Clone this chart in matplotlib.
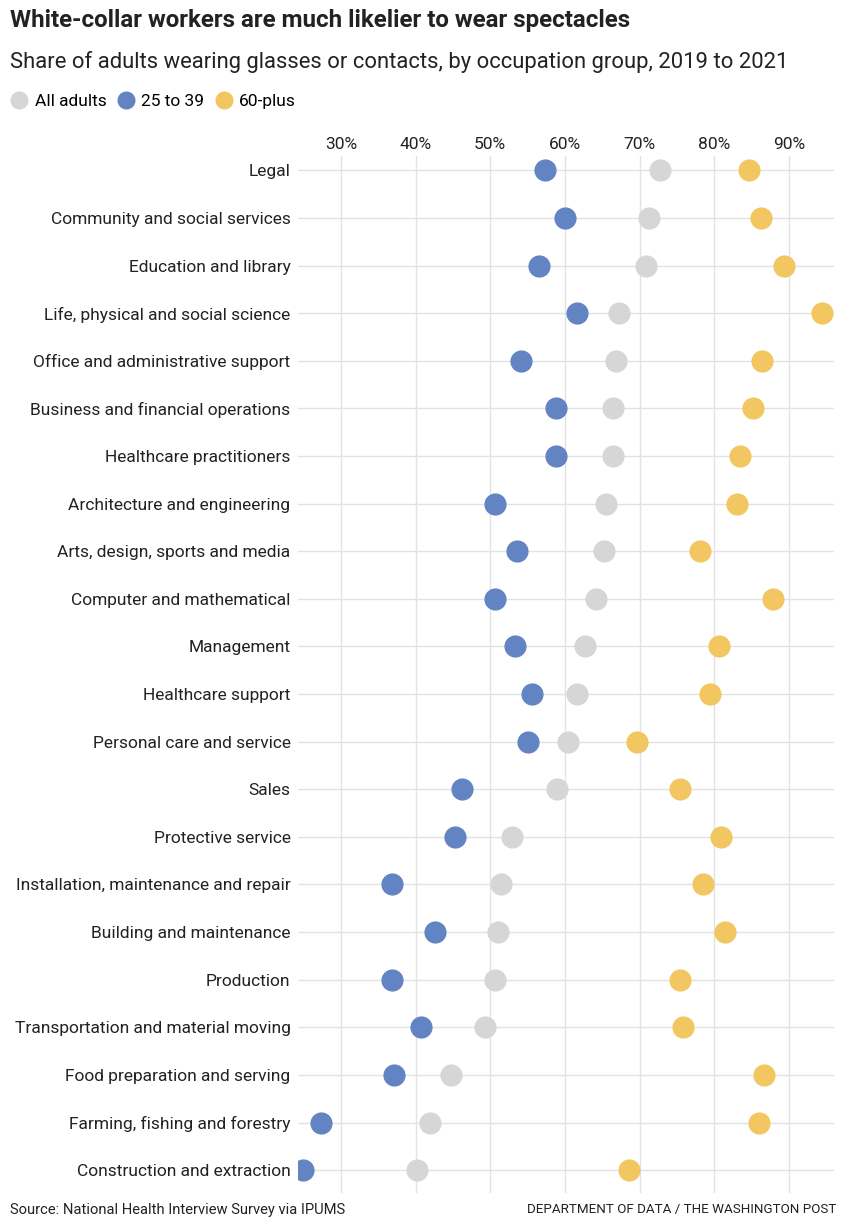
import matplotlib.pyplot as plt
from matplotlib.lines import Line2D

categories = [
    "Legal", "Community and social services", "Education and library",
    "Life, physical and social science", "Office and administrative support",
    "Business and financial operations", "Healthcare practitioners",
    "Architecture and engineering", "Arts, design, sports and media",
    "Computer and mathematical", "Management", "Healthcare support",
    "Personal care and service", "Sales", "Protective service",
    "Installation, maintenance and repair", "Building and maintenance",
    "Production", "Transportation and material moving",
    "Food preparation and serving", "Farming, fishing and forestry",
    "Construction and extraction",
]
all_adults = [72.7, 71.2, 70.9, 67.2, 66.9, 66.5, 66.5, 65.5, 65.3, 64.1, 62.7,
              61.6, 60.4, 58.9, 52.9, 51.4, 51.0, 50.6, 49.3, 44.7, 42.0, 40.2]
age_25_39 = [57.4, 60.0, 56.5, 61.6, 54.1, 58.8, 58.8, 50.7, 53.6, 50.7, 53.3,
             55.6, 55.0, 46.2, 45.3, 36.8, 42.6, 36.8, 40.7, 37.1, 27.3, 25.0]
age_60_plus = [84.6, 86.3, 89.4, 94.4, 86.4, 85.2, 83.5, 83.1, 78.1, 87.8, 80.7,
               79.4, 69.6, 75.4, 80.9, 78.5, 81.4, 75.4, 75.8, 86.6, 86.0, 68.6]
ticks = [30, 40, 50, 60, 70, 80, 90]

GRAY = "#d6d6d6"
BLUE = "#6384c2"
YELLOW = "#f2c661"
TEXT = "#222222"
plt.rcParams["font.family"] = ["Roboto", "DejaVu Sans"]

W, H = 850, 1226
fig = plt.figure(figsize=(W / 100, H / 100), dpi=100)
ax = fig.add_axes([297.5 / W, (H - 1193) / H, 537 / W, (1193 - 156) / H])

y = list(range(len(categories)))
ax.scatter(all_adults, y, s=255, color=GRAY, zorder=3, linewidths=0)
ax.scatter(age_25_39, y, s=255, color=BLUE, zorder=3, linewidths=0)
ax.scatter(age_60_plus, y, s=255, color=YELLOW, zorder=3, linewidths=0)

ax.set_xlim(24.2, 96.1)
ax.set_ylim(21.48, -0.3)
ax.set_xticks(ticks)
ax.set_xticklabels([f"{t}%" for t in ticks])
ax.set_yticks(y)
ax.set_yticklabels(categories)
ax.xaxis.tick_top()
ax.tick_params(axis="x", length=0, pad=3, labelsize=12.5, colors=TEXT)
ax.tick_params(axis="y", length=0, pad=5, labelsize=12.5, colors=TEXT)
ax.grid(True, color="#e2e2e2", linewidth=1, zorder=0)
ax.set_axisbelow(True)
for s in ax.spines.values():
    s.set_visible(False)

fig.text(10 / W, 1 - 20 / H, "White-collar workers are much likelier to wear spectacles",
         fontsize=17.4, fontweight="bold", color=TEXT, va="center", ha="left")
fig.text(10 / W, 1 - 62 / H, "Share of adults wearing glasses or contacts, by occupation group, 2019 to 2021",
         fontsize=15.8, color=TEXT, va="center", ha="left")

# legend row
handles = [
    Line2D([], [], marker="o", linestyle="", markersize=12, color=GRAY, label="All adults"),
    Line2D([], [], marker="o", linestyle="", markersize=12, color=BLUE, label="25 to 39"),
    Line2D([], [], marker="o", linestyle="", markersize=12, color=YELLOW, label="60-plus"),
]
fig.legend(handles=handles, loc="center left", bbox_to_anchor=(2 / W, 1 - 101 / H),
           ncol=3, frameon=False, fontsize=12.5, handletextpad=0.3,
           columnspacing=0.5, handlelength=1.2, borderaxespad=0)

fig.text(10 / W, 1 - 1210 / H, "Source: National Health Interview Survey via IPUMS",
         fontsize=10.6, color=TEXT, va="center", ha="left")
fig.text(836 / W, 1 - 1210 / H, "DEPARTMENT OF DATA / THE WASHINGTON POST",
         fontsize=9.6, color=TEXT, va="center", ha="right")

fig.savefig("out.png", dpi=100)
